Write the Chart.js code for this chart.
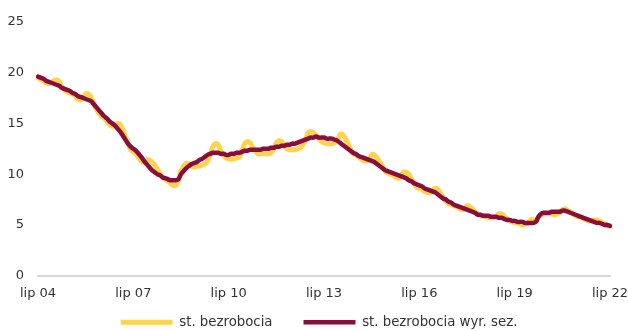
<!DOCTYPE html>
<html lang="pl">
<head>
<meta charset="utf-8">
<script src="https://cdn.jsdelivr.net/npm/chart.js@4.4.0/dist/chart.umd.min.js"></script>
<style>
  html, body { margin: 0; padding: 0; background: #fff; }
  #wrap { width: 628px; height: 331px; }
</style>
</head>
<body>
<div id="wrap"><canvas id="chart"></canvas></div>
<script>
// monthly series, lip 2004 - lip 2022
var monthNames = ["sty", "lut", "mar", "kwi", "maj", "cze", "lip", "sie", "wrz", "paź", "lis", "gru"];
var firstYear = 2004;
var firstMonth = 6; // lipiec
var shownTicks = ["lip 04", "lip 07", "lip 10", "lip 13", "lip 16", "lip 19", "lip 22"];
var yTicks = [0, 5, 10, 15, 20, 25];

// stopa bezrobocia (nsa)
var rate = [
  19.5, 19.3, 19.2, 19.0, 18.9, 19.0,
  19.2, 19.3, 19.1, 18.6, 18.3, 18.1, 18.0, 17.9, 17.7, 17.4, 17.3, 17.5,
  17.9, 17.9, 17.6, 17.0, 16.4, 16.0, 15.7, 15.5, 15.2, 14.9, 14.7, 14.8,
  15.0, 14.9, 14.4, 13.7, 13.0, 12.4, 12.2, 12.0, 11.6, 11.3, 11.2, 11.4,
  11.4, 11.2, 10.9, 10.5, 10.1, 9.7, 9.5, 9.3, 9.1, 8.9, 8.9, 9.3,
  10.3, 10.8, 11.1, 11.0, 10.8, 10.7, 10.8, 10.8, 10.9, 11.0, 11.3, 11.9,
  12.7, 13.0, 12.9, 12.3, 11.9, 11.6, 11.5, 11.5, 11.5, 11.6, 11.7, 12.3,
  13.0, 13.2, 13.1, 12.7, 12.3, 12.0, 12.0, 12.0, 12.0, 12.0, 12.1, 12.5,
  13.1, 13.3, 13.2, 12.8, 12.5, 12.4, 12.4, 12.4, 12.5, 12.6, 12.9, 13.3,
  14.1, 14.2, 14.1, 13.8, 13.5, 13.2, 13.1, 13.0, 13.0, 13.0, 13.1, 13.3,
  13.9, 13.9, 13.5, 13.0, 12.5, 12.0, 11.9, 11.7, 11.5, 11.3, 11.3, 11.4,
  11.9, 11.9, 11.6, 11.2, 10.8, 10.3, 10.1, 10.0, 9.9, 9.7, 9.6, 9.7,
  10.2, 10.2, 10.0, 9.5, 9.1, 8.7, 8.6, 8.5, 8.3, 8.2, 8.2, 8.3,
  8.6, 8.5, 8.1, 7.7, 7.4, 7.1, 7.0, 6.9, 6.8, 6.6, 6.5, 6.6,
  6.9, 6.8, 6.6, 6.3, 6.1, 5.9, 5.9, 5.8, 5.7, 5.7, 5.7, 5.8,
  6.1, 6.1, 5.9, 5.6, 5.4, 5.3, 5.2, 5.2, 5.1, 5.0, 5.1, 5.2,
  5.5, 5.5, 5.4, 5.8, 6.0, 6.1, 6.1, 6.1, 6.1, 6.0, 6.1, 6.2,
  6.5, 6.6, 6.4, 6.3, 6.1, 5.9, 5.8, 5.8, 5.6, 5.5, 5.4, 5.4,
  5.5, 5.5, 5.4, 5.2, 5.1, 4.9, 4.9
];

// stopa bezrobocia wyrównana sezonowo
var rateSA = [
  19.6, 19.5, 19.4, 19.2, 19.1, 19.0,
  18.9, 18.8, 18.7, 18.5, 18.4, 18.3, 18.2, 18.0, 17.9, 17.7, 17.6, 17.5,
  17.4, 17.3, 17.2, 16.9, 16.6, 16.3, 16.0, 15.7, 15.5, 15.2, 15.0, 14.8,
  14.5, 14.2, 13.8, 13.4, 13.0, 12.7, 12.5, 12.3, 12.0, 11.7, 11.3, 11.0,
  10.7, 10.4, 10.2, 10.0, 9.9, 9.7, 9.6, 9.5, 9.4, 9.4, 9.4, 9.5,
  10.0, 10.3, 10.6, 10.8, 11.0, 11.1, 11.2, 11.4, 11.5, 11.7, 11.9, 12.0,
  12.1, 12.1, 12.1, 12.0, 12.0, 11.9, 11.9, 12.0, 12.0, 12.1, 12.1, 12.2,
  12.3, 12.3, 12.4, 12.4, 12.4, 12.4, 12.4, 12.5, 12.5, 12.5, 12.6, 12.6,
  12.7, 12.7, 12.8, 12.8, 12.9, 12.9, 13.0, 13.0, 13.1, 13.2, 13.3, 13.4,
  13.5, 13.6, 13.6, 13.7, 13.6, 13.6, 13.6, 13.5, 13.5, 13.5, 13.4, 13.3,
  13.1, 12.9, 12.7, 12.5, 12.3, 12.1, 12.0, 11.8, 11.7, 11.6, 11.5, 11.4,
  11.3, 11.2, 11.0, 10.8, 10.6, 10.4, 10.3, 10.2, 10.1, 10.0, 9.9, 9.8,
  9.7, 9.6, 9.4, 9.3, 9.1, 9.0, 8.9, 8.8, 8.6, 8.5, 8.4, 8.3,
  8.2, 8.0, 7.8, 7.6, 7.5, 7.3, 7.2, 7.0, 6.9, 6.8, 6.7, 6.6,
  6.5, 6.4, 6.3, 6.2, 6.0, 6.0, 5.9, 5.9, 5.9, 5.8, 5.8, 5.8,
  5.7, 5.7, 5.6, 5.5, 5.5, 5.4, 5.4, 5.3, 5.3, 5.3, 5.2, 5.2,
  5.2, 5.2, 5.3, 5.8, 6.1, 6.2, 6.2, 6.2, 6.3, 6.3, 6.3, 6.3,
  6.4, 6.4, 6.3, 6.2, 6.1, 6.0, 5.9, 5.8, 5.7, 5.6, 5.5, 5.4,
  5.3, 5.2, 5.2, 5.1, 5.0, 5.0, 4.9
];

var labels = rate.map(function (v, i) {
  var m = firstMonth + i;
  var year = firstYear + Math.floor(m / 12);
  return monthNames[m % 12] + " " + String(year).slice(2);
});

var textColor = "#333333";
Chart.defaults.font.family = "'DejaVu Sans', Verdana, sans-serif";
Chart.defaults.font.size = 13;
Chart.defaults.color = textColor;

// the legend is centred on the full canvas, not on the padded layout
var legendShift = {
  id: "legendShift",
  afterLayout: function (chart) {
    chart.legend.left += 14;
    chart.legend.right += 14;
  }
};

var ctx = document.getElementById("chart").getContext("2d");
var chart = new Chart(ctx, {
  type: "line",
  data: {
    labels: labels,
    datasets: [
      {
        label: "st. bezrobocia",
        data: rate,
        borderColor: "#FFD34D",
        backgroundColor: "#FFD34D",
        borderWidth: 5,
        borderCapStyle: "round",
        borderJoinStyle: "round",
        pointRadius: 0,
        tension: 0.4,
        order: 1
      },
      {
        label: "st. bezrobocia wyr. sez.",
        data: rateSA,
        borderColor: "#8B0D3B",
        backgroundColor: "#8B0D3B",
        borderWidth: 4.5,
        borderCapStyle: "round",
        borderJoinStyle: "round",
        pointRadius: 0,
        tension: 0.4,
        order: 0
      }
    ]
  },
  plugins: [legendShift],
  options: {
    responsive: true,
    maintainAspectRatio: false,
    animation: false,
    layout: { padding: { top: 16, bottom: -8, left: 0, right: 18 } },
    plugins: {
      tooltip: { enabled: false },
      legend: {
        position: "bottom",
        labels: {
          usePointStyle: true,
          pointStyle: "line",
          pointStyleWidth: 52,
          padding: 31,
          color: textColor,
          font: { size: 13.3 },
          sort: function (a, b) { return a.datasetIndex - b.datasetIndex; }
        }
      }
    },
    scales: {
      x: {
        grid: { display: true, drawOnChartArea: false, drawTicks: false, color: "rgba(0,0,0,0)" },
        border: { display: true, color: "#d9d9d9", width: 2 },
        afterFit: function (scale) { scale.height = 9; },
        ticks: {
          autoSkip: false,
          maxRotation: 0,
          // mirrored labels are not clipped to the short axis box
          mirror: true,
          padding: -26,
          callback: function (value) {
            var lab = this.getLabelForValue(value);
            return shownTicks.indexOf(lab) >= 0 ? lab : "";
          }
        }
      },
      y: {
        min: yTicks[0],
        max: yTicks[yTicks.length - 1],
        grid: { display: false, drawTicks: false },
        border: { display: false },
        afterFit: function (scale) { scale.width = 38; },
        afterBuildTicks: function (scale) {
          scale.ticks = yTicks.map(function (v) { return { value: v }; });
        },
        ticks: { padding: 14 }
      }
    }
  }
});
</script>
</body>
</html>
